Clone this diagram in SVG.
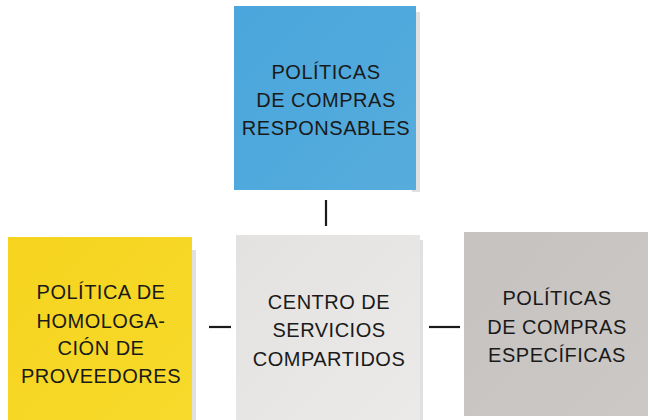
<svg xmlns="http://www.w3.org/2000/svg" width="648" height="420" viewBox="0 0 648 420">
<defs>
<style>
.t{font-family:"Liberation Sans",Arial,sans-serif;font-size:20px;fill:#1a1a1a;text-anchor:middle;letter-spacing:0.5px}
.c{stroke:#1a1a1a;stroke-width:2.2;fill:none}
.sh{fill:#000;opacity:0.12}
</style>
<linearGradient id="gb" x1="0" y1="0" x2="1" y2="1"><stop offset="0" stop-color="#4aa6dc"/><stop offset="1" stop-color="#56acdc"/></linearGradient>
<linearGradient id="gy" x1="0" y1="0" x2="1" y2="1"><stop offset="0" stop-color="#f6d41e"/><stop offset="1" stop-color="#f7da2c"/></linearGradient>
<linearGradient id="gw" x1="0" y1="0" x2="1" y2="1"><stop offset="0" stop-color="#e4e2e0"/><stop offset="1" stop-color="#eceae8"/></linearGradient>
<linearGradient id="gg" x1="0" y1="0" x2="1" y2="1"><stop offset="0" stop-color="#c6c2c0"/><stop offset="1" stop-color="#ccc8c6"/></linearGradient>
</defs>
<rect width="648" height="420" fill="#ffffff"/>
<g id="connectors">
<line class="c" x1="326" y1="200" x2="326" y2="226"/>
<line class="c" x1="209" y1="327" x2="231" y2="327"/>
<line class="c" x1="429" y1="327" x2="460" y2="327"/>
</g>
<g id="node-responsables">
<rect class="sh" x="412" y="12" width="8" height="180"/>
<rect x="234" y="6" width="182" height="184" fill="url(#gb)"/>
<text class="t" x="326" y="79">POLÍTICAS</text>
<text class="t" x="326" y="107">DE COMPRAS</text>
<text class="t" x="326" y="135">RESPONSABLES</text>
</g>
<g id="node-homologacion">
<rect class="sh" x="188" y="250" width="8" height="170"/>
<rect x="8" y="237" width="184" height="183" fill="url(#gy)"/>
<text class="t" x="101" y="299">POLÍTICA DE</text>
<text class="t" x="101" y="328">HOMOLOGA-</text>
<text class="t" x="101" y="355">CIÓN DE</text>
<text class="t" x="101" y="383">PROVEEDORES</text>
</g>
<g id="node-centro">
<rect class="sh" x="418" y="240" width="5" height="180"/>
<rect x="236" y="235" width="184" height="185" fill="url(#gw)"/>
<text class="t" x="329" y="309">CENTRO DE</text>
<text class="t" x="329" y="337">SERVICIOS</text>
<text class="t" x="329" y="366">COMPARTIDOS</text>
</g>
<g id="node-especificas">
<rect x="464" y="232" width="184" height="184" fill="url(#gg)"/>
<text class="t" x="557" y="305">POLÍTICAS</text>
<text class="t" x="557" y="334">DE COMPRAS</text>
<text class="t" x="557" y="362">ESPECÍFICAS</text>
</g>
</svg>
